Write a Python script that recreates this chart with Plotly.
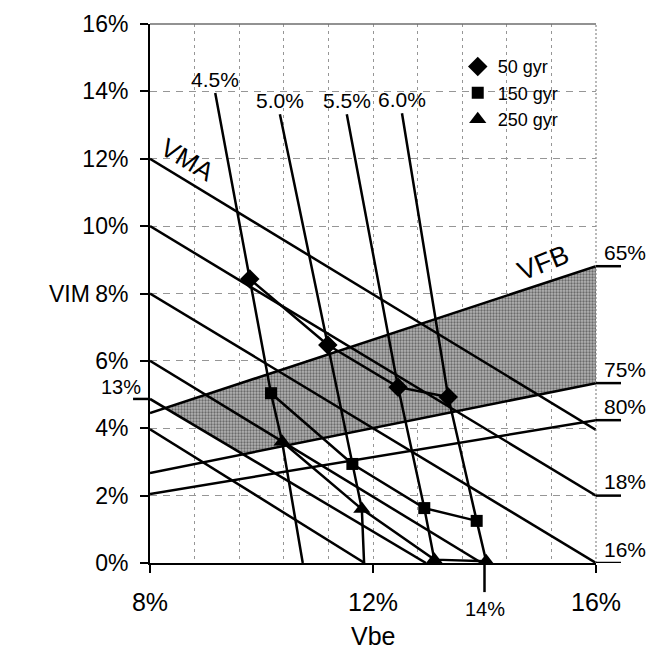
import numpy as np
import plotly.graph_objects as go

# Measured mix points (Vbe %, VIM %) for each binder content at three gyration levels
binder_labels = ["4.5%", "5.0%", "5.5%", "6.0%"]
vbe_50 = [9.79, 11.19, 12.45, 13.35]
vim_50 = [8.43, 6.47, 5.22, 4.93]
vbe_150 = [10.17, 11.63, 12.92, 13.86]
vim_150 = [5.04, 2.94, 1.63, 1.25]
vbe_250 = [10.37, 11.80, 13.10, 14.03]
vim_250 = [3.60, 1.60, 0.10, 0.05]

# Constant binder content lines: upper end and extension down to VIM = 0
binder_top_vbe = [9.17, 10.33, 11.53, 12.52]
binder_top_vim = [13.95, 13.32, 13.32, 13.35]
binder_end_vbe = [10.74, 11.84, None, None]

# Constant VMA lines: VIM at Vbe = 8% and lower/right end point
vma_labels = ["VMA", "18%", "16%", "14%", "13%", "12%"]
vma_start_vim = [12.0, 10.0, 8.0, 6.0, 4.87, 3.97]
vma_end_vbe = [16.0, 16.0, 16.0, 13.95, 12.95, 11.85]
vma_end_vim = [3.95, 2.0, 0.0, 0.0, 0.0, 0.0]

# Constant VFB lines: VIM at Vbe = 8% and at Vbe = 16%
vfb_labels = ["65%", "75%", "80%"]
vfb_start_vim = [4.45, 2.67, 2.05]
vfb_end_vim = [8.81, 5.34, 4.24]

# Axis ticks
x_ticks = [8, 12, 16]
x_tick_text = ["8%", "12%", "16%"]
y_ticks = [0, 2, 4, 6, 8, 10, 12, 14, 16]
y_tick_text = ["0%", "2%", "4%", "6%", "8%", "10%", "12%", "14%", "16%"]

vbe_min, vbe_max = 8.0, 16.0
vbe_mark = 14.0

FONT = "Arial, Liberation Sans, sans-serif"
BLACK = "#000000"
LW = 2.5

fig = go.Figure()


def line_eq(x0, y0, x1, y1):
    m = (y1 - y0) / (x1 - x0)
    return m, y0 - m * x0


def intersect(l1, l2):
    (m1, c1), (m2, c2) = l1, l2
    x = (c2 - c1) / (m1 - m2)
    return x, m1 * x + c1


# Shaded zone: VFB between 65% and 75% with VMA above 13%
vfb65 = line_eq(vbe_min, vfb_start_vim[0], vbe_max, vfb_end_vim[0])
vfb75 = line_eq(vbe_min, vfb_start_vim[1], vbe_max, vfb_end_vim[1])
i13 = vma_labels.index("13%")
vma13 = line_eq(vbe_min, vma_start_vim[i13], vma_end_vbe[i13], vma_end_vim[i13])
p1 = intersect(vfb65, vma13)
p2 = intersect(vfb75, vma13)
zone_x = [p1[0], vbe_max, vbe_max, p2[0], p1[0]]
zone_y = [p1[1], vfb_end_vim[0], vfb_end_vim[1], p2[1], p1[1]]
fig.add_trace(go.Scatter(
    x=zone_x, y=zone_y, mode="lines", fill="toself",
    fillcolor="#a6a6a6",
    fillpattern=dict(shape=".", bgcolor="#b4b4b4", fgcolor="#6a6a6a",
                     size=3, solidity=0.45, fillmode="replace"),
    line=dict(width=0), showlegend=False, hoverinfo="skip",
))

# VMA lines
for lab, y0, x1, y1 in zip(vma_labels, vma_start_vim, vma_end_vbe, vma_end_vim):
    fig.add_trace(go.Scatter(x=[vbe_min, x1], y=[y0, y1], mode="lines",
                             line=dict(color=BLACK, width=LW), showlegend=False,
                             name="VMA " + lab))

# VFB lines
for lab, y0, y1 in zip(vfb_labels, vfb_start_vim, vfb_end_vim):
    fig.add_trace(go.Scatter(x=[vbe_min, vbe_max], y=[y0, y1], mode="lines",
                             line=dict(color=BLACK, width=LW), showlegend=False,
                             name="VFB " + lab))

# Binder content lines through the measured points
for i, lab in enumerate(binder_labels):
    xs = [binder_top_vbe[i], vbe_50[i], vbe_150[i], vbe_250[i]]
    ys = [binder_top_vim[i], vim_50[i], vim_150[i], vim_250[i]]
    if binder_end_vbe[i] is not None:
        xs.append(binder_end_vbe[i])
        ys.append(0.0)
    fig.add_trace(go.Scatter(x=xs, y=ys, mode="lines",
                             line=dict(color=BLACK, width=LW), showlegend=False,
                             name="Pb " + lab))

# Gyration series
series = [
    ("50 gyr", vbe_50, vim_50, "diamond", 15),
    ("150 gyr", vbe_150, vim_150, "square", 12),
    ("250 gyr", vbe_250, vim_250, "triangle-up", 15),
]
for name, xs, ys, sym, size in series:
    fig.add_trace(go.Scatter(x=xs, y=ys, mode="lines+markers", name=name,
                             line=dict(color=BLACK, width=LW),
                             marker=dict(symbol=sym, size=size, color=BLACK),
                             showlegend=False, cliponaxis=False))
    fig.add_trace(go.Scatter(x=[None], y=[None], mode="markers", name=name,
                             marker=dict(symbol=sym, size=size, color=BLACK),
                             showlegend=True))

shapes = []
annotations = []

# Plot frame: top and right edges
shapes.append(dict(type="line", xref="paper", yref="paper", x0=0, x1=1, y0=1, y1=1,
                   line=dict(color="#6e6e6e", width=1.5)))
shapes.append(dict(type="line", xref="paper", yref="paper", x0=1, x1=1, y0=0, y1=1,
                   line=dict(color="#8a8a8a", width=1.2, dash="2px,2px")))

# Right-hand leaders and labels
right_vals = [vfb_end_vim[0], vfb_end_vim[1], vfb_end_vim[2],
              vma_end_vim[vma_labels.index("18%")], vma_end_vim[vma_labels.index("16%")]]
right_text = [vfb_labels[0], vfb_labels[1], vfb_labels[2], "18%", "16%"]
for v, t in zip(right_vals, right_text):
    shapes.append(dict(type="line", xref="paper", yref="y", x0=1, x1=1.056, y0=v, y1=v,
                       line=dict(color=BLACK, width=LW)))
    annotations.append(dict(xref="paper", yref="y", x=1.014, y=v, yshift=14,
                            text=t, showarrow=False, xanchor="left", yanchor="middle",
                            font=dict(family=FONT, size=21, color=BLACK)))

# Left leader for the 13% VMA line
shapes.append(dict(type="line", xref="paper", yref="y", x0=-0.038, x1=0,
                   y0=vma_start_vim[i13], y1=vma_start_vim[i13],
                   line=dict(color=BLACK, width=LW)))
annotations.append(dict(xref="paper", yref="y", x=-0.016, y=vma_start_vim[i13], yshift=12,
                        text="13%", showarrow=False, xanchor="right", yanchor="middle",
                        font=dict(family=FONT, size=20, color=BLACK)))

# Vbe = 14% marker below the axis
shapes.append(dict(type="line", xref="x", yref="paper", x0=vbe_mark, x1=vbe_mark,
                   y0=0, y1=-0.054, line=dict(color=BLACK, width=LW)))
annotations.append(dict(xref="x", yref="paper", x=vbe_mark, y=-0.085,
                        text=f"{vbe_mark:.0f}%", showarrow=False,
                        xanchor="center", yanchor="middle",
                        font=dict(family=FONT, size=20, color=BLACK)))

# Binder content labels
for x, y, t in zip(binder_top_vbe, binder_top_vim, binder_labels):
    annotations.append(dict(x=x, y=y, text=t, showarrow=False, xanchor="center",
                            yanchor="bottom", yshift=0,
                            font=dict(family=FONT, size=21, color=BLACK)))

# Line family names
annotations.append(dict(x=8.68, y=11.96, text="VMA", showarrow=False, textangle=31,
                        font=dict(family=FONT, size=26, color=BLACK)))
annotations.append(dict(x=15.05, y=8.9, text="VFB", showarrow=False, textangle=-22,
                        font=dict(family=FONT, size=27, color=BLACK)))

# Axis titles
annotations.append(dict(xref="paper", yref="y", x=-0.18, y=8, text="VIM", showarrow=False,
                        xanchor="center", yanchor="middle",
                        font=dict(family=FONT, size=23, color=BLACK)))
annotations.append(dict(xref="x", yref="paper", x=12, y=-0.135, text="Vbe", showarrow=False,
                        xanchor="center", yanchor="middle",
                        font=dict(family=FONT, size=25, color=BLACK)))

grid_color = "#969696"

fig.update_layout(
    width=646, height=665,
    margin=dict(l=150, r=50, t=24, b=102),
    paper_bgcolor="white", plot_bgcolor="white",
    font=dict(family=FONT, color=BLACK),
    shapes=shapes, annotations=annotations,
    legend=dict(x=0.69, y=0.955, xanchor="left", yanchor="top",
                bgcolor="rgba(0,0,0,0)", borderwidth=0,
                font=dict(family=FONT, size=18, color=BLACK),
                itemwidth=30, tracegroupgap=0),
    xaxis=dict(
        range=[vbe_min, vbe_max], tickmode="array", tickvals=x_ticks, ticktext=x_tick_text,
        ticks="outside", ticklen=8, tickwidth=2, tickcolor=BLACK,
        ticklabelstandoff=8,
        showline=True, linecolor=BLACK, linewidth=2,
        showgrid=True, gridcolor=grid_color, gridwidth=1, griddash="3px,4px",
        minor=dict(tick0=8, dtick=0.8, showgrid=True, gridcolor=grid_color,
                   gridwidth=1, griddash="3px,4px", ticks=""),
        zeroline=False,
        tickfont=dict(family=FONT, size=25, color=BLACK),
    ),
    yaxis=dict(
        range=[0, 16], tickmode="array", tickvals=y_ticks, ticktext=y_tick_text,
        ticks="outside", ticklen=8, tickwidth=2, tickcolor=BLACK,
        ticklabelstandoff=7,
        showline=True, linecolor=BLACK, linewidth=2,
        showgrid=True, gridcolor=grid_color, gridwidth=1, griddash="7px,6px",
        zeroline=False,
        tickfont=dict(family=FONT, size=23, color=BLACK),
    ),
)

fig.write_html("out.html")
